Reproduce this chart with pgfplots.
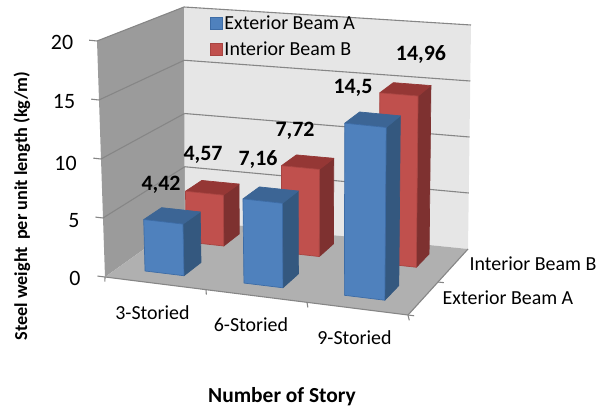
\documentclass[border=0pt]{standalone}
\usepackage{fontspec}
\setmainfont{Carlito}
\usepackage{pgfplots}
\pgfplotsset{compat=1.18}

\definecolor{wallback}{HTML}{E6E6E6}
\definecolor{wallside}{HTML}{9B9B9B}
\definecolor{wallfloor}{HTML}{B0B0B0}
\definecolor{gridc}{HTML}{868686}
\definecolor{bluefront}{HTML}{4F81BD}
\definecolor{bluetop}{HTML}{3C6595}
\definecolor{blueside}{HTML}{34587F}
\definecolor{blueedge}{HTML}{3D6CA6}
\definecolor{redfront}{HTML}{C0504D}
\definecolor{redtop}{HTML}{953735}
\definecolor{redside}{HTML}{7E3130}
\definecolor{rededge}{HTML}{A84441}

% a = along the categories (0..1), b = into the page (0..1), v = value (0..20)
\pgfplotsset{
  table/proj/.style={
    row sep=\\,
    x expr={PX(\thisrow{a},\thisrow{b},\thisrow{v}/20)},
    y expr={PY(\thisrow{a},\thisrow{b},\thisrow{v}/20)}},
  face/.style={forget plot,line width=0.7pt,line join=round},
  gridl/.style={forget plot,draw=gridc,line width=1.1pt}
}

% \seg{a b v}{a b v}
\newcommand{\seg}[2]{\addplot[gridl] table[proj] {a b v\\ #1\\ #2\\};}
% \quadface{style}{four corners}
\newcommand{\quadface}[5]{\addplot[face,#1] table[proj] {a b v\\ #2\\ #3\\ #4\\ #5\\ #2\\};}
% \barbox{a0}{a1}{b0}{b1}{value}{colour prefix}
\newcommand{\barbox}[6]{%
  \quadface{fill=#6side,draw=#6side}{#2 #3 0}{#2 #4 0}{#2 #4 #5}{#2 #3 #5}
  \quadface{fill=#6top,draw=#6top}{#1 #3 #5}{#2 #3 #5}{#2 #4 #5}{#1 #4 #5}
  \quadface{fill=#6front,draw=#6edge}{#1 #3 0}{#2 #3 0}{#2 #3 #5}{#1 #3 #5}
}
\newcommand{\lbl}[3]{\node[font=\fontsize{20}{22}\selectfont] at (axis cs:#1,#2) {#3};}
\newcommand{\tck}[3]{\node[font=\fontsize{22}{24}\selectfont] at (axis cs:#1,#2) {#3};}
\newcommand{\val}[3]{\node[font=\fontsize{22}{24}\selectfont\bfseries] at (axis cs:#1,#2) {#3};}

\begin{document}
\begin{tikzpicture}
\begin{axis}[
  width=603bp, height=412bp, scale only axis,
  xmin=0, xmax=603, ymin=0, ymax=412, y dir=reverse,
  hide axis, clip=false,
  declare function={
    PX(\a,\b,\c)=(1-\c)*((1-\b)*((1-\a)*105+\a*408)+\b*((1-\a)*185+\a*468))
      +\c*((1-\b)*((1-\a)*97+\a*411)+\b*((1-\a)*184+\a*471));
    PY(\a,\b,\c)=(1-\c)*((1-\b)*((1-\a)*277+\a*315)+\b*((1-\a)*220+\a*249))
      +\c*((1-\b)*((1-\a)*41+\a*73)+\b*((1-\a)*7+\a*25));
  },
  legend style={at={(axis cs:207.5,12)},anchor=north west,draw=none,fill=none,
    font=\fontsize{20}{22}\selectfont,row sep=6pt,inner sep=2pt},
  legend cell align=left,
  legend image code/.code={\draw[#1] (0bp,-6bp) rectangle (12bp,6bp);},
]
\path (axis cs:0,0) rectangle (axis cs:603,412);

% walls and floor
\quadface{fill=wallside,draw=none}{0 0 0}{0 1 0}{0 1 20}{0 0 20}
\quadface{fill=wallback,draw=none}{0 1 0}{1 1 0}{1 1 20}{0 1 20}
\quadface{fill=wallfloor,draw=none}{0 0 0}{1 0 0}{1 1 0}{0 1 0}

% grid
\seg{0 1 5}{1 1 5}
\seg{0 1 10}{1 1 10}
\seg{0 1 15}{1 1 15}
\seg{0 1 20}{1 1 20}
\seg{0 0 5}{0 1 5}
\seg{0 0 10}{0 1 10}
\seg{0 0 15}{0 1 15}
\seg{0 0 20}{0 1 20}

% floor edges and ticks
\seg{0 0 0}{1 0 0}
\seg{1 0 0}{1 1 0}
\seg{-0.025 0 0}{0 0 0}
\seg{-0.025 0 5}{0 0 5}
\seg{-0.025 0 10}{0 0 10}
\seg{-0.025 0 15}{0 0 15}
\seg{-0.025 0 20}{0 0 20}
\seg{0 0 0}{0.018 -0.07 0}
\seg{0.3333 0 0}{0.3513 -0.07 0}
\seg{0.6667 0 0}{0.6847 -0.07 0}
\seg{1 0 0}{1.018 -0.07 0}
\seg{1 0.5 0}{1.02 0.5 0}
\seg{1 0 0}{1.02 0 0}

% bars, back row first
\barbox{0.095}{0.225}{0.67}{0.875}{4.57}{red}
\barbox{0.425}{0.555}{0.67}{0.875}{7.72}{red}
\barbox{0.76}{0.89}{0.67}{0.875}{14.96}{red}
\barbox{0.09}{0.22}{0.163}{0.388}{4.42}{blue}
\barbox{0.42}{0.55}{0.163}{0.388}{7.16}{blue}
\barbox{0.755}{0.89}{0.163}{0.388}{14.5}{blue}

% legend
\addlegendimage{fill=bluefront,draw=blueedge,line width=0.8pt}
\addlegendentry{Exterior Beam A}
\addlegendimage{fill=redfront,draw=rededge,line width=0.8pt}
\addlegendentry{Interior Beam B}

% value labels
\val{161}{185}{4,42}
\val{203}{155}{4,57}
\val{258}{160}{7,16}
\val{295}{131}{7,72}
\val{353}{88}{14,5}
\val{421}{55}{14,96}

% tick labels
\tck{62}{42}{20}
\tck{64}{102}{15}
\tck{65.5}{163}{10}
\tck{74}{221}{5}
\tck{75}{278}{0}
\lbl{152.5}{313}{3-Storied}
\lbl{251}{325}{6-Storied}
\lbl{354.5}{338}{9-Storied}
\lbl{533}{264}{Interior Beam B}
\lbl{508}{298}{Exterior Beam A}

% axis titles
\node[rotate=90,font=\fontsize{18.3}{20}\selectfont\bfseries] at (axis cs:22,206) {Steel weight\, per unit length (kg/m)};
\node[font=\fontsize{21.5}{24}\selectfont\bfseries] at (axis cs:282,397) {Number of Story};
\end{axis}
\end{tikzpicture}
\end{document}
